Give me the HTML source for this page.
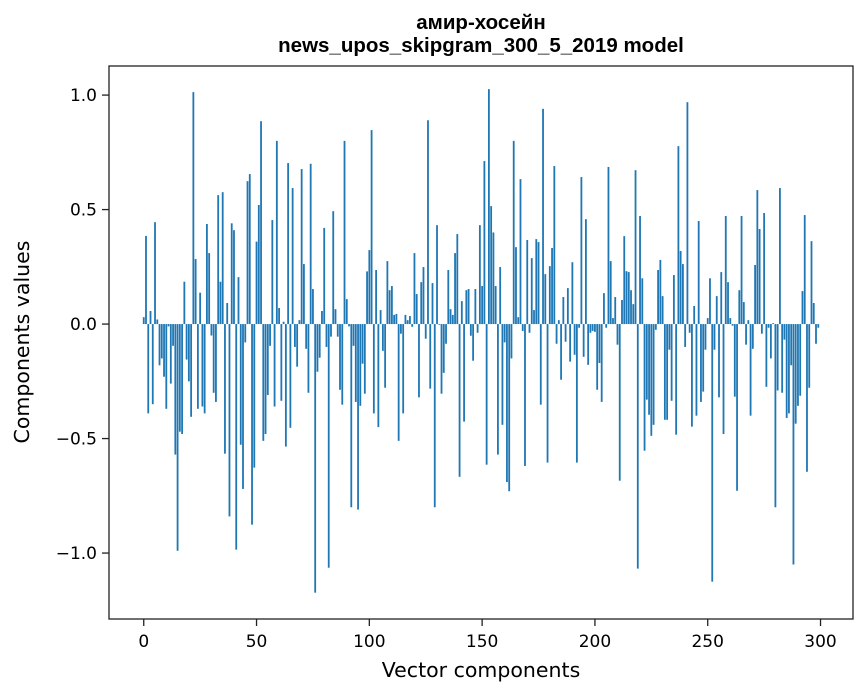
<!DOCTYPE html>
<html><head><meta charset="utf-8"><style>
body{margin:0;background:#fff;}
svg{display:block;font-family:"DejaVu Sans","Liberation Sans",sans-serif;}
</style></head><body>
<svg id="chart" width="867" height="696">
<text x="481" y="29" text-anchor="middle" font-size="20.5" font-weight="bold" font-family="Liberation Sans, sans-serif">амир-хосейн</text>
<text x="481" y="52" text-anchor="middle" font-size="20.5" font-weight="bold" font-family="Liberation Sans, sans-serif">news_upos_skipgram_300_5_2019 model</text>
<g id="bars"></g>
<rect x="109" y="66" width="744" height="553" fill="none" stroke="#222" stroke-width="1.3"/>
<g id="xticks"></g>
<g id="yticks"></g>
<text x="481" y="677" text-anchor="middle" font-size="20.5">Vector components</text>
<text transform="translate(29,342) rotate(-90)" text-anchor="middle" font-size="20.5">Components values</text>
</svg>
<script>
const values = [0.03,0.385,-0.39,0.057,-0.35,0.445,0.02,-0.18,-0.15,-0.23,
-0.37,-0.01,-0.26,-0.095,-0.57,-0.99,-0.47,-0.48,0.185,-0.155,
-0.25,-0.405,1.013,0.284,-0.37,0.137,-0.36,-0.39,0.437,0.31,
-0.05,-0.30,-0.34,0.563,0.185,0.576,-0.566,0.092,-0.84,0.44,
0.41,-0.985,0.205,-0.527,-0.72,-0.08,0.624,0.655,-0.876,-0.627,
0.36,0.52,0.886,-0.51,-0.48,-0.31,-0.095,0.454,-0.36,0.8,
0.07,-0.335,0.01,-0.535,0.703,-0.453,0.594,-0.10,-0.186,0.017,
0.677,0.262,-0.108,-0.30,0.70,0.153,-1.173,-0.208,-0.147,0.057,
0.42,-0.10,-1.064,-0.055,0.493,0.065,-0.055,-0.287,-0.352,0.80,
0.109,-0.01,-0.80,-0.095,-0.34,-0.81,-0.357,-0.173,-0.304,0.23,
0.323,0.847,-0.39,0.236,-0.45,0.061,-0.117,-0.278,0.275,0.148,
0.166,0.04,0.044,-0.51,-0.042,-0.39,0.04,0.017,0.035,-0.012,
0.31,0.131,-0.32,0.183,0.249,-0.064,0.89,-0.282,0.179,-0.80,
0.432,-0.003,-0.304,-0.213,-0.086,0.236,0.065,0.04,0.31,0.393,
-0.667,0.10,-0.426,0.148,0.153,-0.051,-0.16,0.153,-0.038,0.432,
0.166,0.712,-0.614,1.026,0.515,0.40,0.166,-0.57,0.249,-0.44,
-0.08,-0.69,-0.73,-0.15,0.80,0.336,0.03,0.633,-0.03,-0.62,
0.367,-0.038,0.288,0.061,0.371,0.358,-0.352,0.94,0.218,-0.605,
0.253,0.332,0.69,-0.086,0.017,-0.243,0.118,-0.077,0.157,-0.164,
0.27,-0.134,-0.605,-0.016,0.642,-0.143,0.458,-0.178,-0.038,-0.03,
-0.034,-0.287,-0.17,-0.34,0.135,-0.016,0.686,0.275,0.026,0.118,
-0.09,-0.684,0.105,0.384,0.231,0.227,0.148,0.087,0.672,-1.068,
0.472,0.20,-0.553,-0.33,-0.396,-0.488,-0.44,-0.025,0.236,0.28,
0.122,-0.418,-0.418,-0.112,-0.335,0.214,-0.483,0.777,0.319,0.262,
-0.10,0.969,-0.038,-0.448,0.079,-0.40,0.45,-0.34,-0.295,-0.112,
0.026,0.20,-1.125,-0.112,0.122,-0.32,0.227,-0.48,0.472,0.183,
0.026,-0.007,-0.317,-0.728,0.148,0.472,0.096,-0.09,0.017,-0.40,
-0.108,0.258,0.585,0.415,-0.042,0.485,-0.274,-0.016,-0.15,0.004,
-0.80,-0.29,0.594,-0.30,-0.068,-0.41,-0.39,-0.18,-1.05,-0.435,
-0.357,-0.313,0.144,0.476,-0.645,-0.278,0.362,0.092,-0.086,-0.016];
const xTickValues = [0,50,100,150,200,250,300];
const yTickValues = [-1.0,-0.5,0.0,0.5,1.0];
const yTickLabels = ["\u22121.0","\u22120.5","0.0","0.5","1.0"];

const NS="http://www.w3.org/2000/svg";
const L=109,R=853,T=66,B=619;
const xMin=-15.4,xMax=314.4,yMin=-1.288,yMax=1.127;
function xs(v){return L+(v-xMin)/(xMax-xMin)*(R-L);}
function ys(v){return B-(v-yMin)/(yMax-yMin)*(B-T);}
const bars=document.getElementById('bars');
values.forEach((v,i)=>{
  const r=document.createElementNS(NS,'rect');
  const x0=xs(i-0.4),x1=xs(i+0.4);
  const y0=ys(Math.max(v,0)),y1=ys(Math.min(v,0));
  r.setAttribute('x',x0);r.setAttribute('width',x1-x0);
  r.setAttribute('y',y0);r.setAttribute('height',Math.max(y1-y0,0.01));
  r.setAttribute('fill','#1f77b4');
  
  
  bars.appendChild(r);
});
const xt=document.getElementById('xticks');
xTickValues.forEach(v=>{
  const x=xs(v);
  const l=document.createElementNS(NS,'line');
  l.setAttribute('x1',x);l.setAttribute('x2',x);l.setAttribute('y1',B);l.setAttribute('y2',B+7);
  l.setAttribute('stroke','#222');l.setAttribute('stroke-width','1.3');
  
  
  xt.appendChild(l);
  const t=document.createElementNS(NS,'text');
  t.setAttribute('x',x);t.setAttribute('y',B+28);t.setAttribute('text-anchor','middle');t.setAttribute('font-size','17');
  t.textContent=String(v);
  
  
  xt.appendChild(t);
});
const yt=document.getElementById('yticks');
yTickValues.forEach((v,i)=>{
  const y=ys(v);
  const l=document.createElementNS(NS,'line');
  l.setAttribute('x1',L-7);l.setAttribute('x2',L);l.setAttribute('y1',y);l.setAttribute('y2',y);
  l.setAttribute('stroke','#222');l.setAttribute('stroke-width','1.3');
  
  
  yt.appendChild(l);
  const t=document.createElementNS(NS,'text');
  t.setAttribute('x',L-12);t.setAttribute('y',y+6);t.setAttribute('text-anchor','end');t.setAttribute('font-size','17');
  t.textContent=yTickLabels[i];
  
  
  yt.appendChild(t);
});
</script>
</body></html>
